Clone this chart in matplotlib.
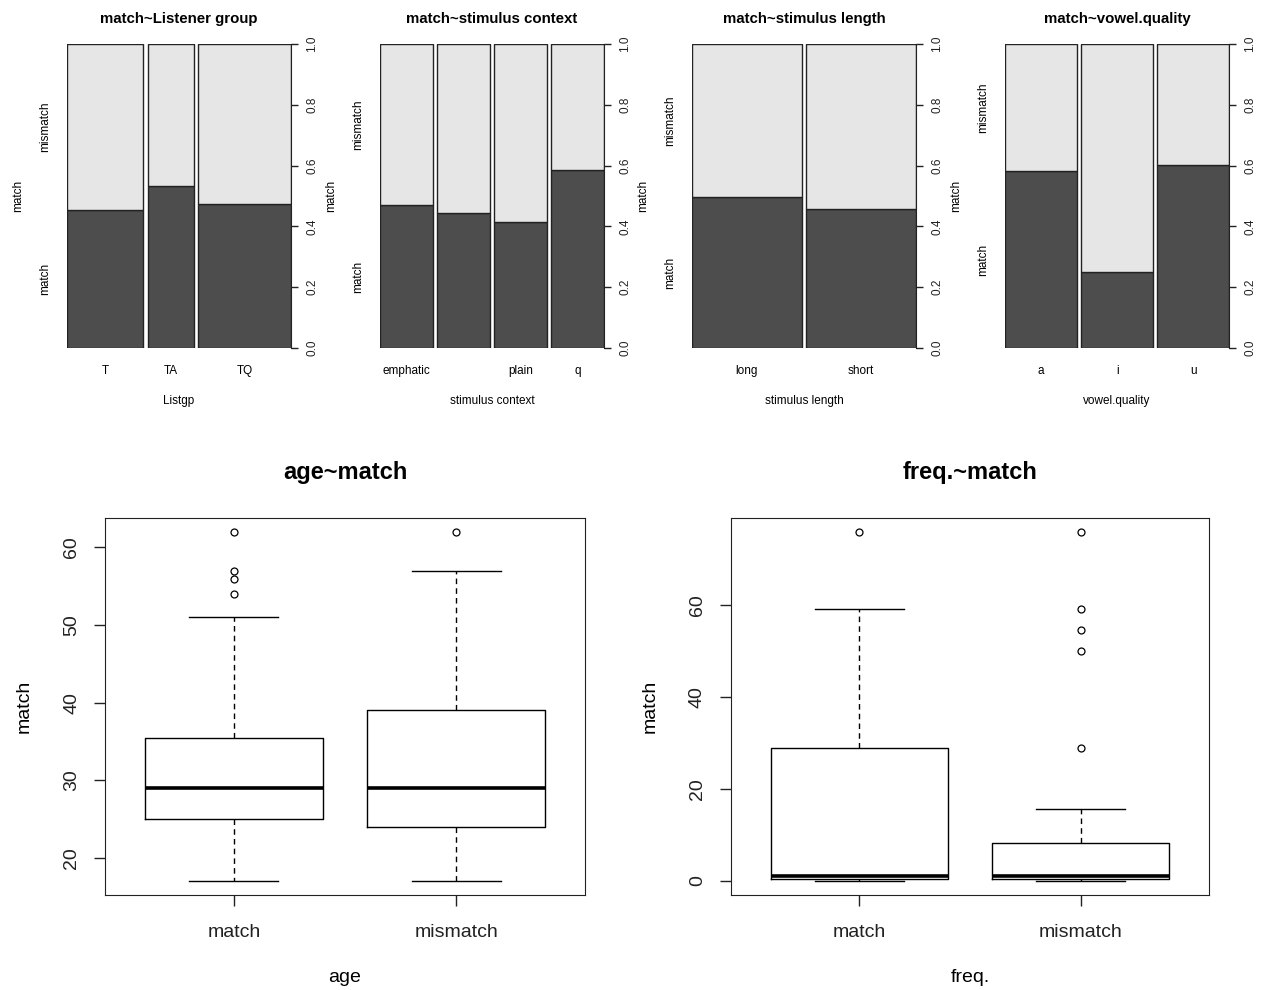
import matplotlib
matplotlib.use("Agg")
import matplotlib.pyplot as plt

plt.rcParams['font.family'] = ['Liberation Sans', 'DejaVu Sans']

DARK = "#4d4d4d"
LIGHT = "#e6e6e6"
EDGE = "#222222"

# spineplots: share of observations per group (bar width) and share of "match"
listgp_groups = ["T", "TA", "TQ"]
listgp_share = [0.355, 0.213, 0.432]
listgp_match = [0.454, 0.533, 0.474]

context_groups = ["emphatic", "", "plain", "q"]
context_share = [0.25, 0.25, 0.25, 0.25]
context_match = [0.470, 0.444, 0.414, 0.586]

length_groups = ["long", "short"]
length_share = [0.50, 0.50]
length_match = [0.497, 0.457]

vowel_groups = ["a", "i", "u"]
vowel_share = [0.334, 0.333, 0.333]
vowel_match = [0.582, 0.250, 0.602]

# boxplots: [lower whisker, Q1, median, Q3, upper whisker] and outliers
box_groups = ["match", "mismatch"]
age_match_five = [17, 25, 29, 35.5, 51]
age_match_out = [54, 56, 57, 62]
age_mismatch_five = [17, 24, 29, 39, 57]
age_mismatch_out = [62]

freq_match_five = [0, 0.5, 1.2, 29, 59.2]
freq_match_out = [76]
freq_mismatch_five = [0, 0.5, 1.2, 8.3, 15.7]
freq_mismatch_out = [29, 50, 54.6, 59.2, 76]

W, H = 1265, 990


def px_axes(fig, left, top, right, bottom):
    return fig.add_axes([left / W, 1 - bottom / H, (right - left) / W, (bottom - top) / H])


def spineplot(ax, groups, share, match, title, xlabel, gap=0.02):
    lefts = []
    x = 0
    for w in share:
        lefts.append(x)
        x += w + gap
    total = x - gap
    ax.bar(lefts, match, width=share, align="edge", color=DARK,
           edgecolor=EDGE, linewidth=1)
    ax.bar(lefts, [1 - m for m in match], bottom=match, width=share,
           align="edge", color=LIGHT, edgecolor=EDGE, linewidth=1)
    ax.set_xlim(0, total)
    ax.set_ylim(0, 1)
    for s in ax.spines.values():
        s.set_visible(False)
    ax.spines["right"].set_visible(True)
    ax.spines["right"].set_color(EDGE)
    ax.yaxis.tick_right()
    ax.set_yticks([0, 0.2, 0.4, 0.6, 0.8, 1.0])
    ax.set_yticklabels(["0.0", "0.2", "0.4", "0.6", "0.8", "1.0"],
                       rotation=90, va="center", fontsize=8.5)
    ax.tick_params(axis="y", length=5, width=1, pad=6, colors=EDGE)
    ax.set_xticks([l + w / 2 for l, w in zip(lefts, share)])
    ax.set_xticklabels(groups, fontsize=8.5)
    ax.tick_params(axis="x", length=0, pad=12)
    ax.set_xlabel(xlabel, fontsize=8.5, labelpad=13)
    ax.set_title(title, fontsize=10.8, fontweight="bold", pad=15)
    ax.annotate("match", xy=(0, match[0] / 2), xycoords=("axes fraction", "data"),
                xytext=(-16, 0), textcoords="offset points", rotation=90,
                ha="center", va="center", fontsize=8.5)
    ax.annotate("mismatch", xy=(0, (1 + match[0]) / 2),
                xycoords=("axes fraction", "data"), xytext=(-16, 0),
                textcoords="offset points", rotation=90,
                ha="center", va="center", fontsize=8.5)
    ax.annotate("match", xy=(0, 0.5), xycoords="axes fraction",
                xytext=(-35, 0), textcoords="offset points", rotation=90,
                ha="center", va="center", fontsize=8.5)


def stats(five, out, label):
    return dict(label=label, whislo=five[0], q1=five[1], med=five[2],
                q3=five[3], whishi=five[4], fliers=out)


def boxpanel(ax, data, title, xlabel, ylim, yticks):
    ax.bxp(data, positions=[1, 2], widths=0.8, capwidths=0.4,
           boxprops=dict(color="black", linewidth=1),
           medianprops=dict(color="black", linewidth=2.6, solid_capstyle="butt"),
           whiskerprops=dict(color="black", linewidth=1, linestyle=(0, (4, 3))),
           capprops=dict(color="black", linewidth=1),
           flierprops=dict(marker="o", markerfacecolor="none",
                           markeredgecolor="black", markersize=5,
                           markeredgewidth=0.9))
    ax.set_xlim(0.42, 2.58)
    ax.set_ylim(*ylim)
    ax.set_yticks(yticks)
    ax.set_yticklabels([str(t) for t in yticks], rotation=90, va="center",
                       fontsize=14)
    ax.set_xticks([1, 2])
    ax.set_xticklabels(box_groups, fontsize=14)
    ax.tick_params(axis="both", length=8, width=1, colors="#222222")
    ax.tick_params(axis="x", pad=13)
    ax.tick_params(axis="y", pad=10)
    for s in ax.spines.values():
        s.set_color("#222222")
    ax.set_title(title, fontsize=17, fontweight="bold", pad=28)
    ax.set_xlabel(xlabel, fontsize=14, labelpad=20)
    ax.set_ylabel("match", fontsize=14, labelpad=22)


def main():
    fig = plt.figure(figsize=(W / 100, H / 100), dpi=100)

    spineplot(px_axes(fig, 67, 44, 291, 348), listgp_groups, listgp_share,
              listgp_match, "match~Listener group", "Listgp")
    spineplot(px_axes(fig, 380, 44, 604, 348), context_groups, context_share,
              context_match, "match~stimulus context", "stimulus context")
    spineplot(px_axes(fig, 692, 44, 916, 348), length_groups, length_share,
              length_match, "match~stimulus length", "stimulus length")
    spineplot(px_axes(fig, 1005, 44, 1229, 348), vowel_groups, vowel_share,
              vowel_match, "match~vowel.quality", "vowel.quality")

    age = [stats(age_match_five, age_match_out, "match"),
           stats(age_mismatch_five, age_mismatch_out, "mismatch")]
    freq = [stats(freq_match_five, freq_match_out, "match"),
            stats(freq_mismatch_five, freq_mismatch_out, "mismatch")]
    boxpanel(px_axes(fig, 105, 518, 585, 895), age, "age~match", "age",
             (15.2, 63.8), [20, 30, 40, 50, 60])
    boxpanel(px_axes(fig, 731, 518, 1209, 895), freq, "freq.~match", "freq.",
             (-3.04, 79.04), [0, 20, 40, 60])

    fig.savefig("out.png", dpi=100, facecolor="white")


if __name__ == '__main__':
    main()
